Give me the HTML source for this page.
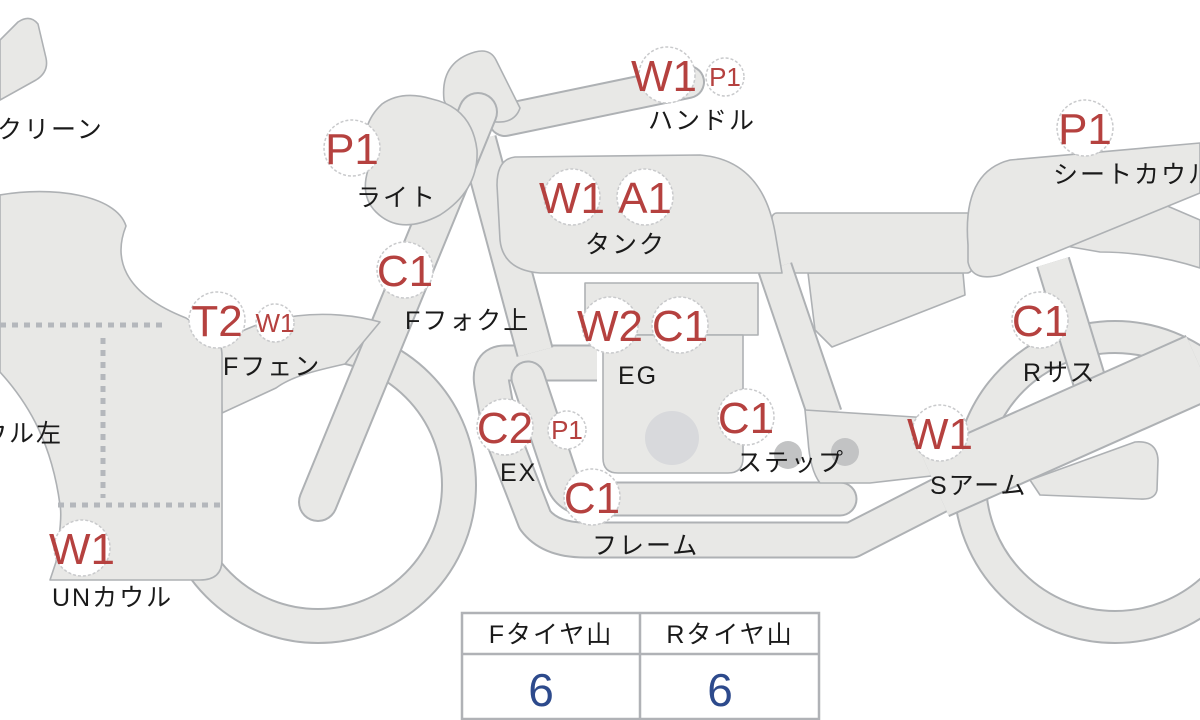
<!DOCTYPE html>
<html><head><meta charset="utf-8"><style>
html,body{margin:0;padding:0;background:#fff;width:1200px;height:720px;overflow:hidden}
svg{display:block}
.lab{font-family:"Liberation Sans","Noto Sans CJK JP",sans-serif;font-size:25px;letter-spacing:2px;fill:#1a1a1a}
.mk{font-family:"Liberation Sans","Noto Sans CJK JP",sans-serif;fill:#b5413f}
</style></head><body>
<svg width="1200" height="720" viewBox="0 0 1200 720" xmlns="http://www.w3.org/2000/svg">
<g fill="#e8e8e6" stroke="#aeb1b4" stroke-width="1.6" stroke-linejoin="round">
<circle cx="318" cy="485" r="141" fill="none" stroke="#aeb1b4" stroke-width="36"/>
<circle cx="318" cy="485" r="141" fill="none" stroke="#e8e8e6" stroke-width="32"/>
<circle cx="1115" cy="482" r="145" fill="none" stroke="#aeb1b4" stroke-width="34"/>
<circle cx="1115" cy="482" r="145" fill="none" stroke="#e8e8e6" stroke-width="30"/>
<path d="M0,40 L18,22 Q30,14 38,24 L46,58 Q49,72 36,80 L0,100 Z"/>
<path d="M1060,245 L1165,205 L1200,220 L1200,268 Q1150,252 1100,252 Z"/>
<line x1="1053" y1="262" x2="1090" y2="383" stroke="#aeb1b4" stroke-width="35"/>
<line x1="1053" y1="262" x2="1090" y2="383" stroke="#e8e8e6" stroke-width="31"/>
<path d="M808,273 L963,273 L965,295 L832,347 L815,330 Z"/>
<rect x="772" y="213" width="200" height="60" rx="5"/>
<path d="M968,245 Q962,172 1010,160 L1200,143 L1200,193 L1000,275 Q972,282 968,262 Z"/>
<line x1="775" y1="268" x2="825" y2="415" stroke="#aeb1b4" stroke-width="36"/>
<line x1="775" y1="268" x2="825" y2="415" stroke="#e8e8e6" stroke-width="32"/>
<path d="M597,363 L505,363 Q488,363 492,385 L500,430 L535,520 Q550,540 585,540 L852,540 L940,495" fill="none" stroke="#aeb1b4" stroke-width="37"/>
<path d="M597,363 L505,363 Q488,363 492,385 L500,430 L535,520 Q550,540 585,540 L852,540 L940,495" fill="none" stroke="#e8e8e6" stroke-width="33"/>
<line x1="478" y1="140" x2="535" y2="352" stroke="#aeb1b4" stroke-width="38"/>
<line x1="478" y1="140" x2="535" y2="352" stroke="#e8e8e6" stroke-width="34"/>
<rect x="585" y="283" width="173" height="52"/>
<path d="M603,335 L743,335 L743,458 Q743,473 728,473 L618,473 Q603,473 603,458 Z"/>
<circle cx="672" cy="438" r="27" fill="#d8d9dc" stroke="none"/>
<path d="M528,378 L562,480 Q568,499 590,499 L840,499" fill="none" stroke="#aeb1b4" stroke-width="35" stroke-linecap="round"/>
<path d="M528,378 L562,480 Q568,499 590,499 L840,499" fill="none" stroke="#e8e8e6" stroke-width="31" stroke-linecap="round"/>
<path d="M805,410 L930,418 L945,440 L940,475 L870,483 L820,483 Q810,470 808,440 Z"/>
<line x1="935" y1="485" x2="1200" y2="367" stroke="#aeb1b4" stroke-width="70"/>
<line x1="935" y1="485" x2="1200" y2="367" stroke="#e8e8e6" stroke-width="66"/>
<path d="M1030,480 L1135,442 Q1157,440 1158,460 L1157,490 Q1155,500 1140,499 L1040,495 Z"/>
<path d="M515,157 L700,155 Q762,160 775,232 L782,273 L540,273 Q503,270 500,240 L497,185 Q497,159 515,157 Z"/>
<line x1="505" y1="120" x2="688" y2="82" stroke="#aeb1b4" stroke-width="34" stroke-linecap="round"/>
<line x1="505" y1="120" x2="688" y2="82" stroke="#e8e8e6" stroke-width="30" stroke-linecap="round"/>
<path d="M444,100 Q440,62 475,52 Q490,48 496,60 L520,108 Q514,126 488,121 Q450,118 444,100 Z"/>
<line x1="318" y1="502" x2="478" y2="112" stroke="#aeb1b4" stroke-width="40" stroke-linecap="round"/>
<line x1="318" y1="502" x2="478" y2="112" stroke="#e8e8e6" stroke-width="36" stroke-linecap="round"/>
<path d="M382,104 Q402,90 432,99 Q472,108 477,150 Q479,190 440,215 Q400,236 376,212 Q360,196 368,170 Q356,128 382,104 Z"/>
<path d="M220,345 C262,312 330,308 380,322 L345,364 C318,370 292,376 276,388 L222,413 Z"/>
<path d="M0,195 C50,186 116,194 126,226 C114,256 120,292 186,318 L216,338 Q222,344 222,356 L222,560 Q222,580 200,580 L50,580 L56,562 C60,530 62,515 60,505 C52,445 30,405 0,372 Z"/>
</g>
<g stroke="#b4b7bc" stroke-width="5" stroke-dasharray="6,6" fill="none">
<line x1="0" y1="325" x2="165" y2="325"/>
<line x1="103" y1="338" x2="103" y2="498"/>
<line x1="58" y1="505" x2="222" y2="505"/>
</g>
<circle cx="788" cy="455" r="14" fill="#c2c3c4"/>
<circle cx="845" cy="452" r="14" fill="#c2c3c4"/>
<g fill="#fff" stroke="#c9cacc" stroke-width="1.5" stroke-dasharray="3,2">
<circle cx="352" cy="148" r="28"/>
<circle cx="572" cy="197" r="28"/><circle cx="645" cy="197" r="28"/>
<circle cx="667" cy="75" r="28"/><circle cx="725" cy="77" r="19"/>
<circle cx="1085" cy="128" r="28"/>
<circle cx="405" cy="270" r="28"/>
<circle cx="217" cy="320" r="28"/><circle cx="275" cy="323" r="19"/>
<circle cx="610" cy="325" r="28"/><circle cx="680" cy="325" r="28"/>
<circle cx="1040" cy="320" r="28"/>
<circle cx="505" cy="427" r="28"/><circle cx="567" cy="430" r="19"/>
<circle cx="746" cy="417" r="28"/>
<circle cx="940" cy="433" r="28"/>
<circle cx="592" cy="497" r="28"/>
<circle cx="82" cy="548" r="28"/>
</g>
<g class="mk" font-size="44" text-anchor="middle">
<text x="352" y="164">P1</text>
<text x="572" y="213">W1</text><text x="645" y="213">A1</text>
<text x="664" y="91">W1</text>
<text x="1085" y="144">P1</text>
<text x="405" y="286">C1</text>
<text x="217" y="336">T2</text>
<text x="610" y="341">W2</text><text x="680" y="341">C1</text>
<text x="1040" y="336">C1</text>
<text x="505" y="443">C2</text>
<text x="746" y="433">C1</text>
<text x="940" y="449">W1</text>
<text x="592" y="513">C1</text>
<text x="82" y="564">W1</text>
</g>
<g class="mk" font-size="26" text-anchor="middle">
<text x="725" y="86">P1</text>
<text x="275" y="332">W1</text>
<text x="567" y="439">P1</text>
</g>
<g class="lab">
<text x="-30" y="138">スクリーン</text>
<text x="356" y="206">ライト</text>
<text x="585" y="253">タンク</text>
<text x="648" y="129">ハンドル</text>
<text x="1053" y="183">シートカウル</text>
<text x="405" y="329">Fフォク上</text>
<text x="223" y="375">Fフェン</text>
<text x="618" y="384">EG</text>
<text x="1023" y="381">Rサス</text>
<text x="500" y="481">EX</text>
<text x="737" y="471">ステップ</text>
<text x="930" y="494">Sアーム</text>
<text x="592" y="554">フレーム</text>
<text x="52" y="606">UNカウル</text>
<text x="-45" y="442">カウル左</text>
</g>
<g stroke="#b0b2b6" stroke-width="2.5" fill="none">
<rect x="462" y="613" width="357" height="106"/>
<line x1="462" y1="654" x2="819" y2="654"/>
<line x1="640" y1="613" x2="640" y2="719"/>
</g>
<g class="lab" text-anchor="middle" font-size="24">
<text x="551" y="643">Fタイヤ山</text>
<text x="730" y="643">Rタイヤ山</text>
</g>
<g font-family="Liberation Sans, sans-serif" font-size="46" fill="#2d4a8c" text-anchor="middle">
<text x="541" y="706">6</text>
<text x="720" y="706">6</text>
</g>
</svg>
</body></html>
